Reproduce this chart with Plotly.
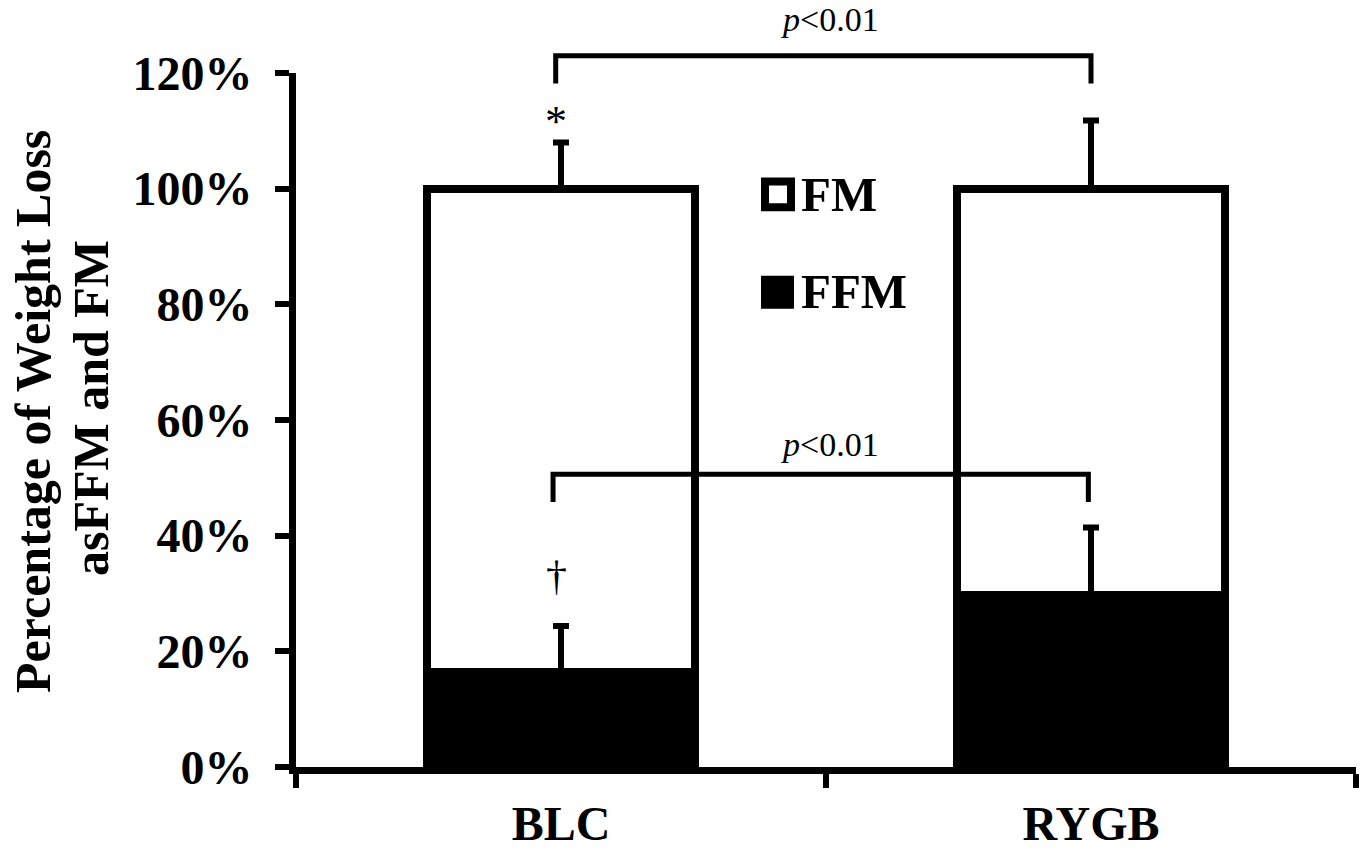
import plotly.graph_objects as go

# ---- data ----
categories = ["BLC", "RYGB"]
ffm_values = [16.5, 29.7]          # % of weight loss as FFM
fm_values = [83.5, 70.3]           # % of weight loss as FM
ffm_err = [7.9, 11.7]              # upper SD of FFM
total_err = [8.0, 11.8]            # upper SD of FM (on top of stack)
ytick_vals = [0, 20, 40, 60, 80, 100, 120]
ytick_text = ["0%", "20%", "40%", "60%", "80%", "100%", "120%"]
sig_text = "<i>p</i>&lt;0.01"
legend_labels = ["FM", "FFM"]
ytitle_lines = ["Percentage of Weight Loss", "asFFM and FM"]

totals = [f + m for f, m in zip(ffm_values, fm_values)]

FONT = "Liberation Serif, Times New Roman, Times, serif"
W, H = 1363, 857
ML, MR, MT, MB = 296, 7, 73, 86
XR = [-0.5, 1.5]
YR = [0, 120]


def xp(x):  # data x -> paper
    return (x - XR[0]) / (XR[1] - XR[0])


def yp(y):  # data y -> paper
    return (y - YR[0]) / (YR[1] - YR[0])


def pxx(px):  # screen pixel x -> paper
    return (px - ML) / (W - ML - MR)


def pxy(py):  # screen pixel y -> paper
    return (H - MB - py) / (H - MB - MT)


fig = go.Figure()
fig.add_trace(go.Bar(x=categories, y=ffm_values, name="FFM", width=0.506,
                     marker=dict(color="black", line=dict(color="black", width=8))))
fig.add_trace(go.Bar(x=categories, y=fm_values, name="FM", width=0.506,
                     marker=dict(color="white", line=dict(color="black", width=8))))
# error bars drawn on top
fig.add_trace(go.Scatter(x=categories, y=ffm_values, mode="markers",
                         marker=dict(size=1, color="rgba(0,0,0,0)"),
                         error_y=dict(type="data", symmetric=False, array=ffm_err,
                                      arrayminus=[0, 0], color="black",
                                      thickness=6, width=8)))
fig.add_trace(go.Scatter(x=categories, y=totals, mode="markers",
                         marker=dict(size=1, color="rgba(0,0,0,0)"),
                         error_y=dict(type="data", symmetric=False, array=total_err,
                                      arrayminus=[0, 0], color="black",
                                      thickness=6, width=8)))

shapes = []


def bracket(x0, x1, ytop, ybot):
    return dict(type="path", xref="paper", yref="paper",
                path=f"M {xp(x0)},{yp(ybot)} L {xp(x0)},{yp(ytop)} L {xp(x1)},{yp(ytop)} L {xp(x1)},{yp(ybot)}",
                line=dict(color="black", width=5), layer="above")


shapes.append(bracket(-0.01, 1.0, 123.0, 118.2))
shapes.append(bracket(-0.015, 0.995, 50.6, 45.8))

# legend squares
shapes.append(dict(type="rect", xref="paper", yref="paper",
                   x0=pxx(765), x1=pxx(791), y0=pxy(208), y1=pxy(182),
                   fillcolor="white", line=dict(color="black", width=8)))
shapes.append(dict(type="rect", xref="paper", yref="paper",
                   x0=pxx(765), x1=pxx(790), y0=pxy(306), y1=pxy(281),
                   fillcolor="black", line=dict(color="black", width=8)))

annotations = []
for yv in (129.2, 55.7):
    annotations.append(dict(text=sig_text, xref="paper", yref="paper", x=xp(0.5075), y=yp(yv),
                            showarrow=False, xanchor="center", yanchor="middle",
                            font=dict(family=FONT, size=34, color="black")))
annotations.append(dict(text="*", xref="paper", yref="paper", x=xp(-0.0085), y=yp(111.6),
                        showarrow=False, xanchor="center", yanchor="middle",
                        font=dict(family=FONT, size=44, color="black")))
annotations.append(dict(text="†", xref="paper", yref="paper", x=xp(-0.009), y=yp(33.0),
                        showarrow=False, xanchor="center", yanchor="middle",
                        font=dict(family=FONT, size=42, color="black")))
annotations.append(dict(text=legend_labels[0], xref="paper", yref="paper", x=pxx(799), y=pxy(195),
                        showarrow=False, xanchor="left", yanchor="middle",
                        font=dict(family=FONT, size=49, color="black", weight="bold")))
annotations.append(dict(text=legend_labels[1], xref="paper", yref="paper", x=pxx(799), y=pxy(293),
                        showarrow=False, xanchor="left", yanchor="middle",
                        font=dict(family=FONT, size=49, color="black", weight="bold")))
for line, cx, cy in zip(ytitle_lines, (33, 91), (414, 410)):
    annotations.append(dict(text=line, xref="paper", yref="paper",
                            x=pxx(cx), y=pxy(cy), textangle=-90, showarrow=False,
                            xanchor="center", yanchor="middle",
                            font=dict(family=FONT, size=50, color="black", weight="bold")))

fig.update_layout(
    width=W, height=H,
    margin=dict(l=ML, r=MR, t=MT, b=MB),
    barmode="stack",
    showlegend=False,
    plot_bgcolor="white", paper_bgcolor="white",
    shapes=shapes, annotations=annotations,
    xaxis=dict(range=XR, type="category", categoryorder="array", categoryarray=categories,
               showline=True, linecolor="black", linewidth=7,
               ticks="outside", tickson="boundaries", ticklen=14, tickwidth=6, tickcolor="black",
               ticklabelstandoff=8,
               showgrid=False, zeroline=False,
               tickfont=dict(family=FONT, size=48, color="black", weight="bold")),
    yaxis=dict(range=YR, tickvals=ytick_vals, ticktext=ytick_text,
               showline=True, linecolor="black", linewidth=7,
               ticks="outside", ticklen=14, tickwidth=6, tickcolor="black",
               ticklabelstandoff=13,
               showgrid=False, zeroline=False,
               tickfont=dict(family=FONT, size=48, color="black", weight="bold")),
)

fig.write_html("out.html", config={"displayModeBar": False},
               post_script="document.body.style.margin='0';document.body.style.overflow='hidden';")
